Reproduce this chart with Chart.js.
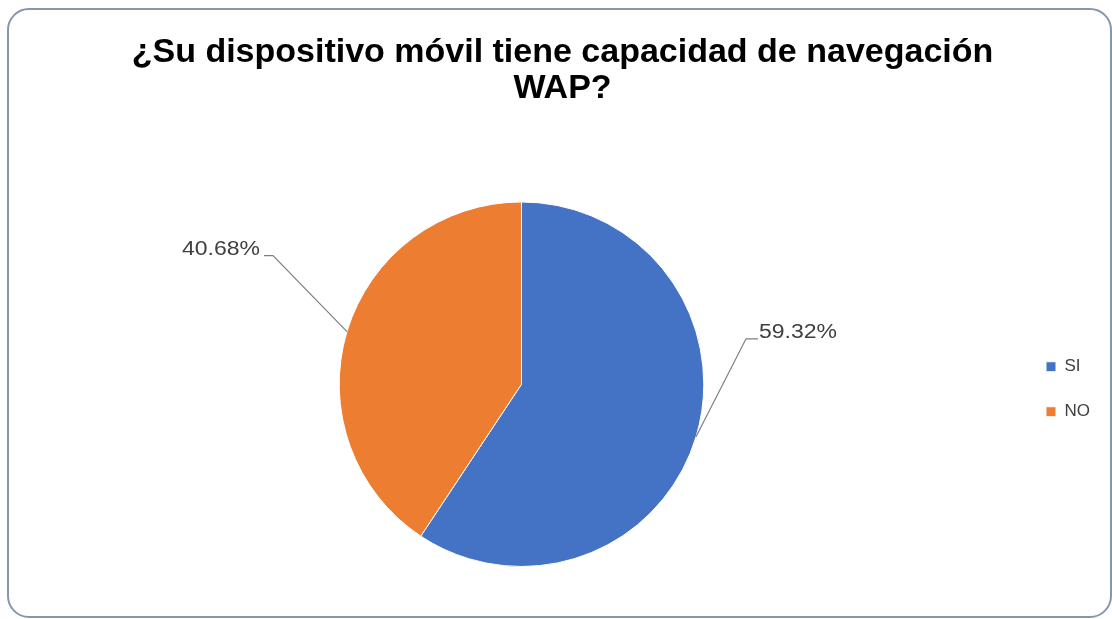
<!DOCTYPE html>
<html>
<head>
<meta charset="utf-8">
<script src="https://cdn.jsdelivr.net/npm/chart.js@4"></script>
<style>
  body { margin: 0; background: #ffffff; }
  #frame {
    position: absolute; left: 7px; top: 8px; width: 1101px; height: 606px;
    border: 2px solid #8597aa; border-radius: 22px; background: #fff; overflow: hidden;
  }
  #c { display: block; }
</style>
</head>
<body>
<div id="frame"><canvas id="c" width="1101" height="606"></canvas></div>
<script>
const categories = ['SI', 'NO'];
const percents = [59.32, 40.68];
const sliceColors = ['#4472C4', '#ED7D31'];
const titleLines = ['¿Su dispositivo móvil tiene capacidad de navegación', 'WAP?'];

// leader line placement per slice: offset of elbow from slice edge, and horizontal tail
const leaderOffsets = [{ dx: 50, dy: -98, tail: 12 }, { dx: -74, dy: -76, tail: -9 }];

const leaderLabels = {
  id: 'leaderLabels',
  afterDatasetsDraw(chart) {
    const ctx = chart.ctx;
    const meta = chart.getDatasetMeta(0);
    ctx.save();
    meta.data.forEach((arc, i) => {
      const mid = (arc.startAngle + arc.endAngle) / 2;
      const r = arc.outerRadius;
      const x0 = arc.x + Math.cos(mid) * r;
      const y0 = arc.y + Math.sin(mid) * r;
      const o = leaderOffsets[i];
      const x1 = x0 + o.dx, y1 = y0 + o.dy;
      const x2 = x1 + o.tail;
      ctx.strokeStyle = '#7f7f7f';
      ctx.lineWidth = 1.2;
      ctx.beginPath();
      ctx.moveTo(x0, y0);
      ctx.lineTo(x1, y1);
      ctx.lineTo(x2, y1);
      ctx.stroke();
      ctx.fillStyle = '#404040';
      ctx.font = '20px "Liberation Sans", Arial, sans-serif';
      ctx.textBaseline = 'middle';
      const txt = percents[i].toFixed(2) + '%';
      // the original labels are a little wide for their height
      ctx.save();
      if (o.tail > 0) {
        ctx.translate(x2 + 1, y1 - 6);
        ctx.scale(1.15, 1);
        ctx.textAlign = 'left';
      } else {
        ctx.translate(x2 - 4, y1 - 6);
        ctx.scale(1.15, 1);
        ctx.textAlign = 'right';
      }
      ctx.fillText(txt, 0, 0);
      ctx.restore();
    });
    ctx.restore();
  }
};

// keep the legend column centred on the pie
const legendCenter = {
  id: 'legendCenter',
  beforeDraw(chart) {
    if (chart.legend) {
      chart.legend.top = chart.chartArea.top + 10;
      chart.legend.bottom = chart.chartArea.bottom;
    }
  }
};

new Chart(document.getElementById('c'), {
  type: 'pie',
  data: {
    labels: categories,
    datasets: [{
      data: percents,
      backgroundColor: sliceColors,
      borderColor: '#ffffff',
      borderWidth: 1
    }]
  },
  options: {
    responsive: false,
    animation: false,
    layout: { padding: { left: 16, right: 10, top: 0, bottom: 49 } },
    plugins: {
      title: {
        display: true,
        text: titleLines,
        color: '#000000',
        font: { family: '"Liberation Sans", Arial, sans-serif', size: 34, weight: 'bold', lineHeight: 1.08 },
        padding: { top: 24, bottom: 94 }
      },
      legend: {
        position: 'right',
        labels: {
          boxWidth: 10,
          boxHeight: 10,
          padding: 28,
          color: '#404040',
          font: { family: '"Liberation Sans", Arial, sans-serif', size: 17 }
        }
      },
      tooltip: { enabled: false }
    }
  },
  plugins: [leaderLabels, legendCenter]
});
</script>
</body>
</html>
